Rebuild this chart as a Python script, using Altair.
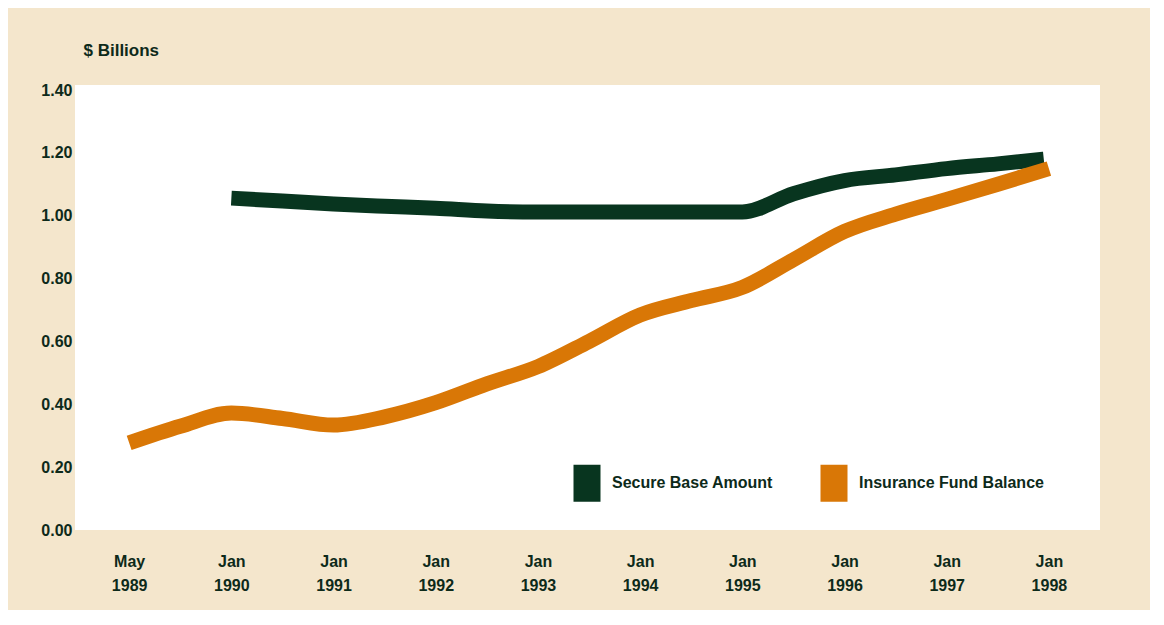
import json
import altair as alt
import pandas as pd

# ---- data ----
tick_pos = [0, 1, 2, 3, 4, 5, 6, 7, 8, 9]
tick_month = ["May", "Jan", "Jan", "Jan", "Jan", "Jan", "Jan", "Jan", "Jan", "Jan"]
tick_year = ["1989", "1990", "1991", "1992", "1993", "1994", "1995", "1996", "1997", "1998"]

series_names = ["Secure Base Amount", "Insurance Fund Balance"]
series_colors = ["#08351f", "#d97706"]

secure_t = [1, 1.5, 2, 2.5, 3, 3.5, 4, 4.5, 5, 5.5, 6, 6.5, 7, 7.5, 8, 8.5, 8.95]
secure_v = [1.056, 1.047, 1.037, 1.03, 1.024, 1.015, 1.012, 1.012, 1.012, 1.012, 1.012,
            1.07, 1.112, 1.13, 1.15, 1.165, 1.18]

fund_t = [0, 0.5, 1, 1.5, 2, 2.5, 3, 3.5, 4, 4.5, 5, 5.5, 6, 6.5, 7, 7.5, 8, 8.5, 9]
fund_v = [0.277, 0.33, 0.372, 0.355, 0.334, 0.36, 0.405, 0.465, 0.52, 0.60, 0.684, 0.73,
          0.772, 0.86, 0.95, 1.005, 1.052, 1.10, 1.15]

y_ticks = [0, 0.2, 0.4, 0.6, 0.8, 1.0, 1.2, 1.4]

df_secure = pd.DataFrame({"t": secure_t, "v": secure_v, "series": series_names[0]})
df_fund = pd.DataFrame({"t": fund_t, "v": fund_v, "series": series_names[1]})

FONT = "Liberation Sans"
TXT = "#0d2a1a"
FS = 16

label_expr = f"[{json.dumps(tick_month)}[datum.value], {json.dumps(tick_year)}[datum.value]]"

x_enc = alt.X(
    "t:Q",
    scale=alt.Scale(domain=[-0.53, 9.5], nice=False, zero=False),
    axis=alt.Axis(
        values=tick_pos, labelExpr=label_expr, title=None, grid=False, domain=False,
        ticks=False, labelPadding=23, labelFontSize=FS, labelFont=FONT, labelColor=TXT,
        labelLineHeight=24, labelFontWeight="bold",
    ),
)
y_enc = alt.Y(
    "v:Q",
    scale=alt.Scale(domain=[0, 1.416], nice=False),
    axis=alt.Axis(
        values=y_ticks, format=".2f", grid=False, domain=False, ticks=False,
        labelPadding=3, labelFontSize=FS, labelFont=FONT, labelColor=TXT,
        labelFontWeight="bold",
        title="$ Billions", titleAngle=0, titleX=8, titleY=-35, titleAlign="left",
        titleBaseline="middle", titleFont=FONT, titleFontSize=17, titleColor=TXT,
        titleFontWeight="bold",
    ),
)
color_enc = alt.Color(
    "series:N",
    scale=alt.Scale(domain=series_names, range=series_colors),
    legend=alt.Legend(
        title=None, orient="none", direction="horizontal", legendX=480, legendY=366,
        symbolType="M0,-1L0,1", symbolSize=1369, symbolStrokeWidth=27,
        labelFont=FONT, labelFontSize=FS, labelColor=TXT, labelFontWeight="bold",
        labelOffset={"expr": "-7"}, labelLimit=400, columnPadding=7, padding=0,
    ),
)

line_green = alt.Chart(df_secure).mark_line(
    strokeWidth=15, interpolate="monotone", strokeCap="butt"
).encode(x=x_enc, y=y_enc, color=color_enc)
line_orange = alt.Chart(df_fund).mark_line(
    strokeWidth=15, interpolate="monotone", strokeCap="butt"
).encode(x=x_enc, y=y_enc, color=color_enc)

chart = (
    alt.layer(line_green, line_orange)
    .properties(
        width=1025, height=445,
        autosize=alt.AutoSizeParams(type="none"),
        padding={"left": 67, "top": 77, "right": 50, "bottom": 80},
        background="#f4e6cc",
    )
    .configure_view(fill="white", stroke=None)
)

chart.save("out.html", embed_options={"renderer": "svg", "actions": False})
